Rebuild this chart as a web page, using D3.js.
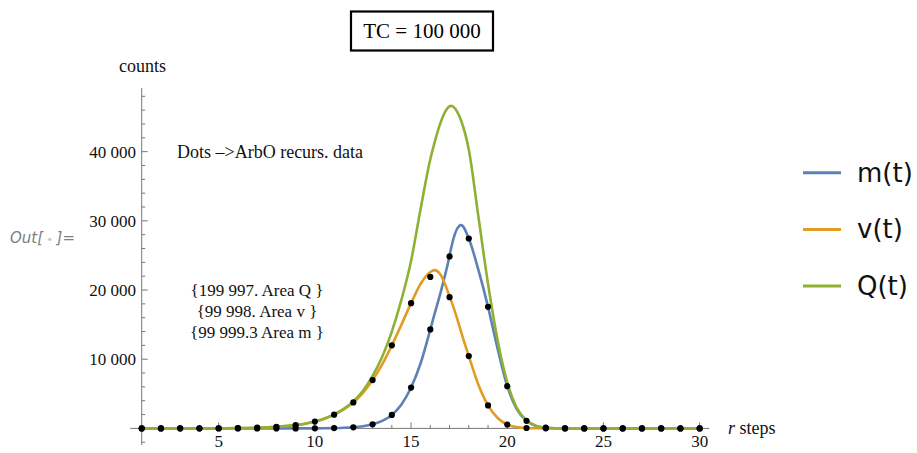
<!DOCTYPE html>
<html><head><meta charset="utf-8">
<script src="https://cdn.jsdelivr.net/npm/d3@7"></script>
<style>body{margin:0;background:#fff;overflow:hidden}</style></head>
<body><svg id="c" width="917" height="453"></svg>
<script>
// ---- data ----
const steps = [1,2,3,4,5,6,7,8,9,10,11,12,13,14,15,16,17,18,19,20,21,22,23,24,25,26,27,28,29,30];
const mDots = [0,0,0,0,0,0,0,0,0,10,40,150,600,1950,5900,14300,24850,27450,17570,6100,1100,100,10,0,0,0,0,0,0,0];
const vDots = [0,0,5,10,20,45,100,220,470,980,1990,3750,6980,12000,18100,21900,18970,10450,3320,550,60,5,0,0,0,0,0,0,0,0];

const tCurve = [1,2,3,4,5,6,7,8,8.5,9,9.5,10,10.5,11,11.5,12,12.5,13,13.5,14,14.5,15,15.5,16,16.21,16.5,17,17.08,17.5,17.6,18,18.5,19,19.5,20,20.5,21,21.5,22,22.5,23,24,25,26,27,28,29,30];
const mCurve = [0,0,0,0,0,0,0,1,2,3,5,10,20,42,85,167,315,600,1085,1950,3450,5900,9450,14300,16450,19300,24950,26050,29260,29380,27450,22900,17570,11500,6100,2750,1100,350,95,22,5,0,0,0,0,0,0,0];
const vCurve = [0,1,4,9,20,45,100,220,322,470,680,980,1400,1990,2740,3740,5130,6980,9250,12000,15000,18100,20900,22600,22870,22350,19100,18500,14900,13950,10450,6300,3320,1500,550,180,50,12,3,0,0,0,0,0,0,0,0,0];
const qCurve = [0,1,4,9,20,45,100,221,324,473,685,990,1420,2030,2830,3900,5450,7580,10350,13980,18600,24200,31800,38900,41200,43950,46570,46620,45200,44500,40300,30600,20900,12700,6650,2930,1150,362,98,22,5,0,0,0,0,0,0,0];

const seriesNames = ["m(t)","v(t)","Q(t)"];
const seriesColors = ["#5E81B5","#E19C24","#8FB032"];

const xMajor = [5,10,15,20,25,30];
const xMinor = [1,2,3,4,6,7,8,9,11,12,13,14,16,17,18,19,21,22,23,24,26,27,28,29];
const yMajor = [10000,20000,30000,40000];
const yMinor = [-2000,2000,4000,6000,8000,12000,14000,16000,18000,22000,24000,26000,28000,32000,34000,36000,38000,42000,44000,46000,48000];
const yLabels = ["10 000","20 000","30 000","40 000"];
const annotations = ["{199 997. Area Q }","{99 998. Area v }","{99 999.3 Area m }"];

// ---- drawing ----
const svg = d3.select("#c");
const x = d3.scaleLinear().domain([0.4,30.5]).range([130.16,709.3]);
const y = d3.scaleLinear().domain([-2400,49200]).range([445,88]);
const serif = "'Liberation Serif','Times New Roman',serif";
const axisCol = "#777";

// axes lines
svg.append("line").attr("x1",x(0.4)).attr("x2",x(30.5)).attr("y1",y(0)).attr("y2",y(0))
  .attr("stroke",axisCol).attr("stroke-width",1);
svg.append("line").attr("x1",x(1)).attr("x2",x(1)).attr("y1",y(49200)).attr("y2",y(-2400))
  .attr("stroke",axisCol).attr("stroke-width",1);

// x ticks
svg.selectAll(".xmaj").data(xMajor).join("line")
  .attr("x1",d=>x(d)).attr("x2",d=>x(d)).attr("y1",y(0)).attr("y2",y(0)-6)
  .attr("stroke",axisCol);
svg.selectAll(".xmin").data(xMinor).join("line")
  .attr("x1",d=>x(d)).attr("x2",d=>x(d)).attr("y1",y(0)).attr("y2",y(0)-3.5)
  .attr("stroke",axisCol);
svg.selectAll(".xlab").data(xMajor).join("text")
  .attr("x",d=>x(d)).attr("y",447).attr("text-anchor","middle")
  .attr("font-family",serif).attr("font-size",17).attr("fill","#111").text(d=>d);

// y ticks
svg.selectAll(".ymaj").data(yMajor).join("line")
  .attr("x1",x(1)).attr("x2",x(1)+6).attr("y1",d=>y(d)).attr("y2",d=>y(d))
  .attr("stroke",axisCol);
svg.selectAll(".ymin").data(yMinor).join("line")
  .attr("x1",x(1)).attr("x2",x(1)+3.5).attr("y1",d=>y(d)).attr("y2",d=>y(d))
  .attr("stroke",axisCol);
svg.selectAll(".ylab").data(yMajor).join("text")
  .attr("x",136).attr("y",d=>y(d)+6).attr("text-anchor","end")
  .attr("font-family",serif).attr("font-size",17).attr("fill","#111")
  .text((d,i)=>yLabels[i]);

// curves
const curves = [mCurve, vCurve, qCurve];
const line = d3.line().x((d,i)=>x(tCurve[i])).y(d=>y(d)).curve(d3.curveMonotoneX);
curves.forEach((c,k)=>{
  svg.append("path").attr("d",line(c)).attr("fill","none")
    .attr("stroke",seriesColors[k]).attr("stroke-width",2.6).attr("stroke-linejoin","round");
});

// dots
[mDots, vDots].forEach(arr=>{
  svg.append("g").selectAll("circle").data(arr).join("circle")
    .attr("cx",(d,i)=>x(steps[i])).attr("cy",d=>y(d)).attr("r",3.1).attr("fill","#000");
});

// labels
svg.append("text").attr("x",142.5).attr("y",72).attr("text-anchor","middle")
  .attr("font-family",serif).attr("font-size",18).attr("fill","#111").text("counts");
const rs = svg.append("text").attr("x",728).attr("y",434)
  .attr("font-family",serif).attr("font-size",18).attr("fill","#111");
rs.append("tspan").attr("font-style","italic").text("r");
rs.append("tspan").text(" steps");

svg.append("text").attr("x",177).attr("y",158)
  .attr("font-family",serif).attr("font-size",18).attr("fill","#111").text("Dots \u2013>ArbO recurs. data");
svg.selectAll(".ann").data(annotations).join("text")
  .attr("x",257).attr("y",(d,i)=>296+i*21).attr("text-anchor","middle")
  .attr("font-family",serif).attr("font-size",17).attr("fill","#111").text(d=>d);

// title box
svg.append("rect").attr("x",351).attr("y",11.5).attr("width",142).attr("height",39)
  .attr("fill","#fff").attr("stroke","#000").attr("stroke-width",2.2);
svg.append("text").attr("x",422).attr("y",38).attr("text-anchor","middle")
  .attr("font-family",serif).attr("font-size",21).attr("fill","#000").text("TC = 100 000");

// Out[] label
const out = svg.append("text").attr("x",10).attr("y",243)
  .attr("font-family","'DejaVu Sans',sans-serif").attr("font-style","italic")
  .attr("font-size",15).attr("fill","#808080");
out.append("tspan").text("Out[");
out.append("tspan").attr("fill","#c8c8c8").attr("font-size",11).attr("font-style","normal").text(" \u2022 ");
out.append("tspan").text("]=");

// legend
const lg = svg.append("g");
seriesNames.forEach((n,i)=>{
  const yy = 172.7 + i*56.7;
  lg.append("line").attr("x1",803).attr("x2",841).attr("y1",yy).attr("y2",yy)
    .attr("stroke",seriesColors[i]).attr("stroke-width",3);
  lg.append("text").attr("x",857).attr("y",yy+9).attr("font-family","'DejaVu Sans',sans-serif")
    .attr("font-size",26).attr("fill","#111").text(n);
});
</script></body></html>
